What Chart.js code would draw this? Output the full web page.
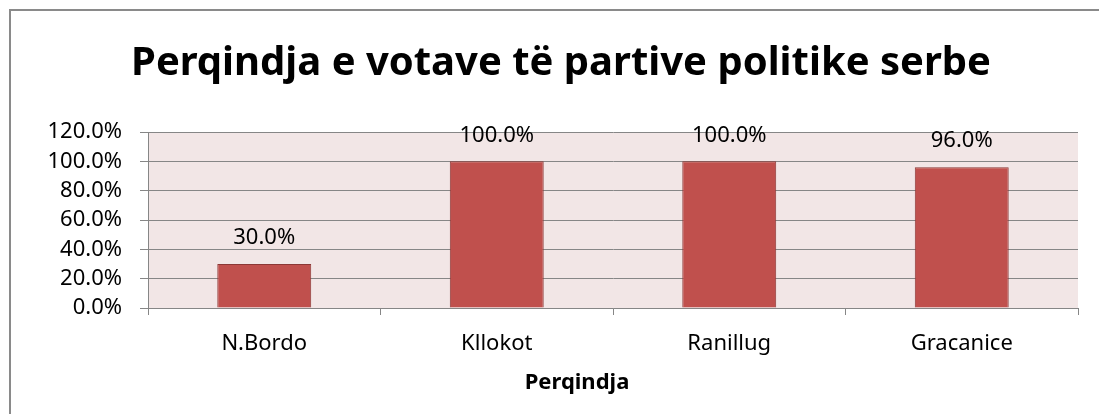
<!DOCTYPE html>
<html>
<head>
<meta charset="utf-8">
<script src="https://cdn.jsdelivr.net/npm/chart.js@4/dist/chart.umd.min.js"></script>
<style>
  html, body { margin: 0; padding: 0; background: #fff; overflow: hidden; }
  #wrap { position: relative; width: 1099px; height: 414px; }
  #frame { position: absolute; left: 9px; top: 9px; width: 1200px; height: 500px; border: 2px solid #8a8a8a; box-sizing: border-box; }
  canvas { position: absolute; left: 0; top: 0; }
</style>
</head>
<body>
<div id="wrap">
  <div id="frame"></div>
  <canvas id="chart" width="1099" height="414"></canvas>
</div>
<script>
var chartTitle = "Perqindja e votave të partive politike serbe";
var xAxisTitle = "Perqindja";
var categories = ["N.Bordo", "Kllokot", "Ranillug", "Gracanice"];
var percentValues = [30, 100, 100, 96];
var yTicks = [0, 20, 40, 60, 80, 100, 120];

// light pink plot background + titles
var plotBg = {
    id: 'plotBg',
    beforeDraw: function(chart) {
        var a = chart.chartArea, ctx = chart.ctx;
        ctx.save();
        ctx.fillStyle = '#f2e6e6';
        ctx.fillRect(a.left, a.top, a.right - a.left, a.bottom - a.top);
        ctx.fillStyle = '#000';
        ctx.textAlign = 'center';
        ctx.font = 'bold 40px "Noto Sans"';
        ctx.textBaseline = 'alphabetic';
        ctx.fillText(chartTitle, 561, 75);
        ctx.font = 'bold 22px "Noto Sans"';
        ctx.textBaseline = 'middle';
        ctx.fillText(xAxisTitle, 577, 383);
        ctx.restore();
    }
};

// value labels above the bars
var barLabels = {
    id: 'barLabels',
    afterDatasetsDraw: function(chart) {
        var ctx = chart.ctx;
        var meta = chart.getDatasetMeta(0);
        ctx.save();
        ctx.font = '22px "Noto Sans"';
        ctx.fillStyle = '#000';
        ctx.textAlign = 'center';
        ctx.textBaseline = 'middle';
        meta.data.forEach(function(bar, i) {
            ctx.fillText(percentValues[i].toFixed(1) + '%', bar.x, bar.y - 26);
        });
        ctx.restore();
    }
};

var ctx = document.getElementById('chart').getContext('2d');
var myChart = new Chart(ctx, {
    type: 'bar',
    data: {
        labels: categories,
        datasets: [{
            data: percentValues,
            backgroundColor: '#c0504d',
            borderColor: '#8c3836',
            borderWidth: 1,
            categoryPercentage: 1,
            barPercentage: 0.404
        }]
    },
    options: {
        responsive: false,
        animation: false,
        layout: { padding: { left: 0, right: 21, top: 132, bottom: 0 } },
        plugins: {
            legend: { display: false },
            tooltip: { enabled: false },
            title: { display: false }
        },
        scales: {
            x: {
                grid: { display: true, drawOnChartArea: false, offset: true, color: '#868686', tickLength: 7 },
                border: { color: '#868686', width: 1 },
                ticks: { color: '#000', font: { family: 'Noto Sans', size: 22 }, padding: 16, autoSkip: false, maxRotation: 0 },
                afterFit: function(scale) { scale.height = 106; }
            },
            y: {
                min: 0,
                max: 120,
                afterBuildTicks: function(scale) {
                    scale.ticks = yTicks.map(function(v) { return { value: v }; });
                },
                grid: { color: '#868686', tickLength: 8 },
                border: { color: '#868686', width: 1 },
                ticks: {
                    color: '#000',
                    font: { family: 'Noto Sans', size: 22 },
                    padding: 18,
                    autoSkip: false,
                    callback: function(v) { return v.toFixed(1) + '%'; }
                },
                afterFit: function(scale) { scale.width = 148; }
            }
        }
    },
    plugins: [plotBg, barLabels]
});
</script>
</body>
</html>
